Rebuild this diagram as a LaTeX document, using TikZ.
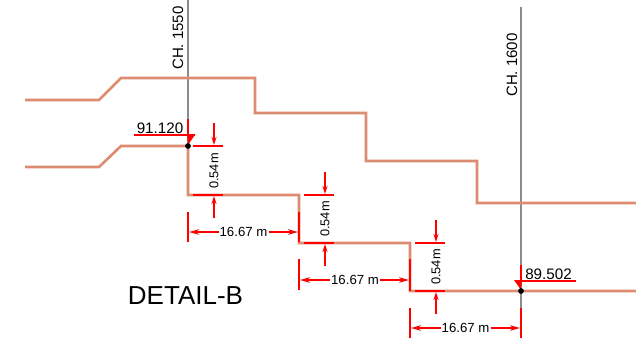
\documentclass[tikz,border=0pt]{standalone}
\usepackage{fontspec}
\setmainfont{Liberation Sans}
\usetikzlibrary{arrows.meta}

\begin{document}
\begin{tikzpicture}[
    x=1pt, y=-1pt,
    chline/.style={line width=2.8pt, color=chgray},
    profile/.style={line width=2.6pt, color=profilecol},
    redline/.style={line width=2.4pt, red},
    dimarrow/.style={line width=1.3pt, red, -{Stealth[length=8pt,width=5pt]}},
    dimtick/.style={line width=2.2pt, red},
    dimhoriz/.style={line width=2.2pt, red, -{Stealth[length=10pt,width=5.5pt]}},
    chlabel/.style={rotate=90, font=\fontsize{15}{15}\selectfont, inner sep=0pt},
    levellabel/.style={font=\fontsize{15.2}{15}\selectfont, inner sep=0pt},
    dimlabel/.style={font=\fontsize{13.2}{13}\selectfont, inner sep=0pt},
    droplabel/.style={rotate=90, font=\fontsize{12.8}{13}\selectfont, inner sep=0pt},
]
    \definecolor{chgray}{HTML}{8C8C8C}
    \definecolor{profilecol}{HTML}{DE8C70}
    \useasboundingbox (0,0) rectangle (636,338);

    \draw[chline] (188,0) to (188,146);
    \draw[chline] (521,7) to (521,310);

    \draw[profile, line join=miter] (25,100) -- (99,100) -- (121,78) -- (255,78) -- (255,113)
        -- (366,113) -- (366,161) -- (477,161) -- (477,203) -- (636,203);
    \draw[profile, line join=miter] (25,167) -- (99,167) -- (121,146) -- (188,146) -- (188,195)
        -- (299,195) -- (299,243) -- (410,243) -- (410,291) -- (636,291);

    \node[chlabel] (chA) at (178,38) {CH. 1550};
    \node[chlabel] (chB) at (512,65) {CH. 1600};
    \node[levellabel] (levelA) at (160,128) {91.120};
    \node[levellabel] (levelB) at (548.5,274) {89.502};
    \node[font=\fontsize{26}{26}\selectfont, inner sep=0pt] (title) at (185.5,296) {DETAIL-B};

    % level markers
    \draw[redline] (188,119) to (188,135);
    \draw[redline] (134,135) to (195,135);
    \fill[red] (187,134) -- (195.5,134) -- (188,145) -- cycle;
    \draw[redline] (521,265) to (521,281);
    \draw[redline] (521,281) to (576,281);
    \fill[red] (514,280) -- (522,280) -- (521,290) -- cycle;
    \draw[fill = black] (188,146) circle (2.6);
    \draw[fill = black] (521,291) circle (2.6);

    % drops
    \draw[dimtick] (193,146) to (223,146);
    \draw[dimtick] (193,195) to (223,195);
    \draw[dimarrow] (214,123) to (214,145);
    \draw[dimarrow] (214,218) to (214,196);
    \node[droplabel] (dropA) at (214,171) {0.54m};

    \draw[dimtick] (304,195) to (334,195);
    \draw[dimtick] (304,243) to (334,243);
    \draw[dimarrow] (325,172) to (325,194);
    \draw[dimarrow] (325,266) to (325,244);
    \node[droplabel] (dropB) at (325,219) {0.54m};

    \draw[dimtick] (415,243) to (445,243);
    \draw[dimtick] (415,291) to (445,291);
    \draw[dimarrow] (436,220) to (436,242);
    \draw[dimarrow] (436,314) to (436,292);
    \node[droplabel] (dropC) at (436,267) {0.54m};

    % lengths
    \draw[dimtick] (188,212) to (188,242);
    \draw[dimtick] (299,212) to (299,242);
    \node[dimlabel] (lenA) at (243.5,232) {16.67 m};
    \coordinate (lenAl) at (189,232);
    \coordinate (lenAr) at (298,232);
    \draw[dimhoriz] (lenA) ++(-25,0) to (lenAl);
    \draw[dimhoriz] (lenA) ++(25,0) to (lenAr);

    \draw[dimtick] (299,259) to (299,290);
    \draw[dimtick] (410,259) to (410,291);
    \node[dimlabel] (lenB) at (355,280) {16.67 m};
    \coordinate (lenBl) at (300,280);
    \coordinate (lenBr) at (409,280);
    \draw[dimhoriz] (lenB) ++(-25,0) to (lenBl);
    \draw[dimhoriz] (lenB) ++(25,0) to (lenBr);

    \draw[dimtick] (410,308) to (410,338);
    \draw[dimtick] (521,308) to (521,338);
    \node[dimlabel] (lenC) at (465.5,328) {16.67 m};
    \coordinate (lenCl) at (411,328);
    \coordinate (lenCr) at (520,328);
    \draw[dimhoriz] (lenC) ++(-25,0) to (lenCl);
    \draw[dimhoriz] (lenC) ++(25,0) to (lenCr);
\end{tikzpicture}
\end{document}
